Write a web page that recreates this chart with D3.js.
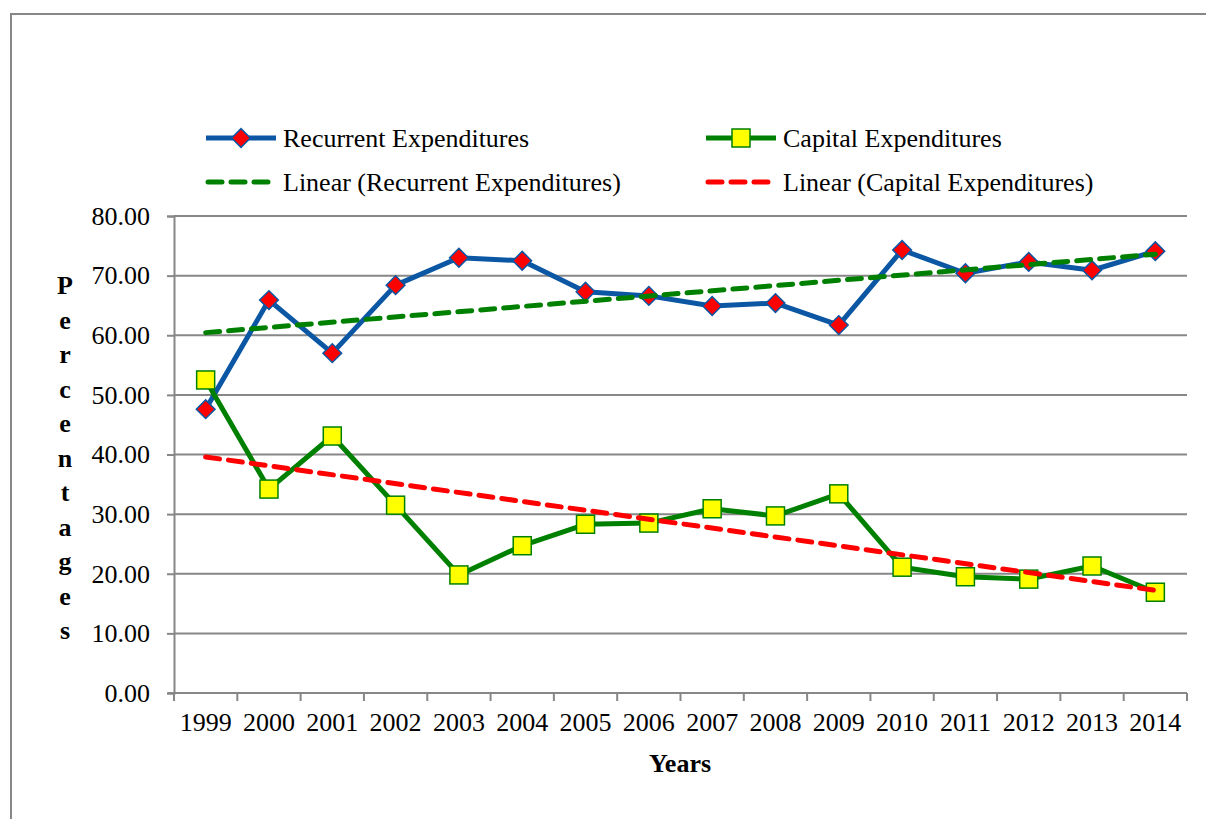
<!DOCTYPE html>
<html>
<head>
<meta charset="utf-8">
<script src="https://cdn.jsdelivr.net/npm/d3@7"></script>
<style>
  body { margin: 0; background: #fff; }
  text { font-family: "Liberation Serif", "Times New Roman", serif; fill: #000; }
</style>
</head>
<body>
<svg id="chart" width="1206" height="819"></svg>
<script>

// Data
const years = ['1999', '2000', '2001', '2002', '2003', '2004', '2005', '2006',
  '2007', '2008', '2009', '2010', '2011', '2012', '2013', '2014']
const recurrent = [47.6, 65.9, 57.0, 68.4, 73.0, 72.5, 67.3, 66.6,
  64.9, 65.4, 61.7, 74.3, 70.4, 72.3, 70.9, 74.1]
const capital = [52.5, 34.2, 43.1, 31.5, 19.8, 24.7, 28.3, 28.5,
  30.9, 29.7, 33.4, 21.1, 19.5, 19.1, 21.3, 16.9]
const y_ticks = [0, 10, 20, 30, 40, 50, 60, 70, 80]
const y_title = 'Percentages'.split('')

const colors = {
  blue: '#0b57a4',
  green: '#008000',
  red: '#ff0000',
  yellow: '#ffff00',
  grid: '#878787'
}
const font_size = '26px'
const diamond = d3.symbol(d3.symbolSquare, 175)

const svg = d3.select('#chart')

// Outer frame
svg.append('rect')
  .attr('x', 11).attr('y', 14)
  .attr('width', 1210).attr('height', 830)
  .attr('fill', 'none')
  .attr('stroke', colors.grid)
  .attr('stroke-width', 2)

const plot = { left: 174, right: 1187, top: 216, bottom: 693 }

let x = d3.scaleBand()
  .domain(years)
  .range([plot.left, plot.right])
let y = d3.scaleLinear()
  .domain([0, 80])
  .range([plot.bottom, plot.top])
let cx = d => x(d) + x.bandwidth() / 2

// Gridlines
svg.append('g')
  .selectAll('line')
  .data(y_ticks.filter(d => d > 0))
  .enter()
  .append('line')
    .attr('x1', plot.left).attr('x2', plot.right)
    .attr('y1', d => y(d)).attr('y2', d => y(d))
    .attr('stroke', colors.grid)
    .attr('stroke-width', 2)

// Y axis
let y_axis = svg.append('g')
  .attr('transform', `translate(${plot.left},0)`)
  .call(d3.axisLeft(y).tickValues(y_ticks).tickSize(7).tickPadding(17)
    .tickFormat(d3.format('.2f')))
y_axis.select('.domain').attr('stroke', colors.grid).attr('stroke-width', 2)
y_axis.selectAll('.tick line').attr('stroke', colors.grid).attr('stroke-width', 2)
y_axis.selectAll('.tick text')
  .style('font-family', '"Liberation Serif", serif')
  .style('font-size', font_size)
  .attr('fill', '#000')

// X axis: ticks between categories
let x_axis = svg.append('g')
  .attr('transform', `translate(0,${plot.bottom})`)
x_axis.append('line')
  .attr('x1', plot.left - 6).attr('x2', plot.right)
  .attr('stroke', colors.grid).attr('stroke-width', 2)
x_axis.selectAll('.xtick')
  .data(years.concat(['end']))
  .enter()
  .append('line')
    .attr('x1', (d, i) => plot.left + i * x.bandwidth())
    .attr('x2', (d, i) => plot.left + i * x.bandwidth())
    .attr('y1', 0).attr('y2', 8)
    .attr('stroke', colors.grid).attr('stroke-width', 2)
x_axis.selectAll('.xlabel')
  .data(years)
  .enter()
  .append('text')
    .attr('x', d => cx(d))
    .attr('y', 38)
    .attr('text-anchor', 'middle')
    .style('font-size', font_size)
    .text(d => d)

// Axis titles
svg.append('text')
  .attr('x', 680).attr('y', 772)
  .attr('text-anchor', 'middle')
  .style('font-size', font_size)
  .style('font-weight', 'bold')
  .text('Years')

svg.append('g')
  .selectAll('text')
  .data(y_title)
  .enter()
  .append('text')
    .attr('x', 65)
    .attr('y', (d, i) => 294 + i * 34.5)
    .attr('text-anchor', 'middle')
    .style('font-size', font_size)
    .style('font-weight', 'bold')
    .text(d => d)

// Trend lines (least squares over the series)
function trend(vals) {
  let n = vals.length
  let xs = vals.map((v, i) => i + 1)
  let mx = d3.mean(xs), my = d3.mean(vals)
  let b = d3.sum(xs.map((xv, i) => (xv - mx) * (vals[i] - my))) /
    d3.sum(xs.map(xv => (xv - mx) * (xv - mx)))
  let a = my - b * mx
  return [[years[0], a + b], [years[n - 1], a + b * n]]
}

let line = d3.line().x(d => cx(d[0])).y(d => y(d[1]))

let series = [
  { vals: recurrent, color: colors.blue },
  { vals: capital, color: colors.green }
]

// Series lines
for (let s of series) {
  svg.append('path')
    .datum(years.map((yr, i) => [yr, s.vals[i]]))
    .attr('d', line)
    .attr('fill', 'none')
    .attr('stroke', s.color)
    .attr('stroke-width', 5)
    .attr('stroke-linejoin', 'round')
}

// Markers
svg.append('g')
  .selectAll('path')
  .data(recurrent)
  .enter()
  .append('path')
    .attr('d', diamond)
    .attr('transform', (d, i) => `translate(${cx(years[i])},${y(d)}) rotate(45)`)
    .attr('fill', colors.red)
    .attr('stroke', colors.blue)
    .attr('stroke-width', 1.5)

svg.append('g')
  .selectAll('rect')
  .data(capital)
  .enter()
  .append('rect')
    .attr('x', (d, i) => cx(years[i]) - 9)
    .attr('y', d => y(d) - 9)
    .attr('width', 18).attr('height', 18)
    .attr('fill', colors.yellow)
    .attr('stroke', colors.green)
    .attr('stroke-width', 1.5)

// Trend lines drawn on top
let trends = [
  { vals: recurrent, color: colors.green },
  { vals: capital, color: colors.red }
]
for (let t of trends) {
  svg.append('path')
    .datum(trend(t.vals))
    .attr('d', line)
    .attr('fill', 'none')
    .attr('stroke', t.color)
    .attr('stroke-width', 5)
    .attr('stroke-dasharray', '14 9')
    .attr('stroke-linecap', 'round')
}

// Legend
let legend = svg.append('g')
let items = [
  { x: 206, y: 138, label: 'Recurrent Expenditures', color: colors.blue, marker: 'diamond' },
  { x: 706, y: 138, label: 'Capital Expenditures', color: colors.green, marker: 'square' },
  { x: 206, y: 182, label: 'Linear (Recurrent Expenditures)', color: colors.green, dashed: true },
  { x: 706, y: 182, label: 'Linear (Capital Expenditures)', color: colors.red, dashed: true }
]
for (let it of items) {
  legend.append('line')
    .attr('x1', it.x + (it.dashed ? 2 : 0)).attr('x2', it.x + (it.dashed ? 68 : 70))
    .attr('y1', it.y).attr('y2', it.y)
    .attr('stroke', it.color)
    .attr('stroke-width', 5)
    .attr('stroke-dasharray', it.dashed ? '14 9' : null)
    .attr('stroke-linecap', it.dashed ? 'round' : 'butt')
  if (it.marker == 'diamond') {
    legend.append('path')
      .attr('d', diamond)
      .attr('transform', `translate(${it.x + 35},${it.y}) rotate(45)`)
      .attr('fill', colors.red)
      .attr('stroke', colors.blue)
      .attr('stroke-width', 1.5)
  } else if (it.marker == 'square') {
    legend.append('rect')
      .attr('x', it.x + 26).attr('y', it.y - 9)
      .attr('width', 18).attr('height', 18)
      .attr('fill', colors.yellow)
      .attr('stroke', colors.green)
      .attr('stroke-width', 1.5)
  }
  legend.append('text')
    .attr('x', it.x + 77)
    .attr('y', it.y + 9)
    .style('font-size', font_size)
    .text(it.label)
}

</script>
</body>
</html>
